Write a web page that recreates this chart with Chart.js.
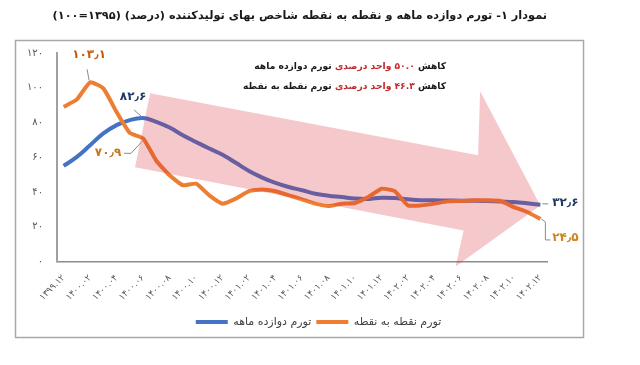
<!DOCTYPE html>
<html lang="fa">
<head>
<meta charset="utf-8">
<script src="https://cdn.jsdelivr.net/npm/chart.js@4.4.0/dist/chart.umd.min.js"></script>
<style>
html, body { margin: 0; padding: 0; background: #fff; }
#caja { width: 640px; height: 365px; }
</style>
</head>
<body>
<div id="caja"><canvas id="grafica" width="640" height="365"></canvas></div>
<script>
// months (every month 1399.12 .. 1402.12), labels shown every second one
const meses = [
  '۱۳۹۹.۱۲', '۱۴۰۰.۰۱', '۱۴۰۰.۰۲', '۱۴۰۰.۰۳', '۱۴۰۰.۰۴', '۱۴۰۰.۰۵', '۱۴۰۰.۰۶',
  '۱۴۰۰.۰۷', '۱۴۰۰.۰۸', '۱۴۰۰.۰۹', '۱۴۰۰.۱۰', '۱۴۰۰.۱۱', '۱۴۰۰.۱۲',
  '۱۴۰۱.۰۱', '۱۴۰۱.۰۲', '۱۴۰۱.۰۳', '۱۴۰۱.۰۴', '۱۴۰۱.۰۵', '۱۴۰۱.۰۶',
  '۱۴۰۱.۰۷', '۱۴۰۱.۰۸', '۱۴۰۱.۰۹', '۱۴۰۱.۱۰', '۱۴۰۱.۱۱', '۱۴۰۱.۱۲',
  '۱۴۰۲.۰۱', '۱۴۰۲.۰۲', '۱۴۰۲.۰۳', '۱۴۰۲.۰۴', '۱۴۰۲.۰۵', '۱۴۰۲.۰۶',
  '۱۴۰۲.۰۷', '۱۴۰۲.۰۸', '۱۴۰۲.۰۹', '۱۴۰۲.۱۰', '۱۴۰۲.۱۱', '۱۴۰۲.۱۲'
];

// تورم دوازده ماهه
const tavarromSalaneh = [
  55.0, 60.2, 66.9, 73.7, 78.5, 81.4, 82.6, 80.4, 77.1, 72.7, 68.8, 65.0, 61.5,
  56.8, 52.1, 48.3, 45.2, 42.9, 41.0, 39.0, 37.9, 37.1, 36.2, 36.0, 36.7,
  36.5, 35.8, 35.3, 35.2, 35.1, 35.0, 35.0, 34.8, 34.5, 34.2, 33.5, 32.6
];

// تورم نقطه به نقطه
const tavarromNoghte = [
  89.0, 93.3, 103.1, 99.6, 86.0, 74.0, 70.9, 58.0, 49.6, 43.9, 44.8, 38.1, 33.3,
  36.2, 40.5, 41.5, 40.4, 38.1, 35.8, 33.3, 31.9, 33.3, 33.7, 37.1, 41.9,
  40.5, 32.3, 32.3, 33.3, 34.6, 34.8, 35.2, 35.2, 34.8, 31.3, 28.5, 24.5
];

const yTicks = [0, 20, 40, 60, 80, 100, 120];

const nombres = ['تورم دوازده ماهه', 'تورم نقطه به نقطه'];
const titulo = 'نمودار ۱- تورم دوازده ماهه و نقطه به نقطه شاخص بهای تولیدکننده (درصد) (۱۳۹۵=۱۰۰)';

const faDigits = '۰۱۲۳۴۵۶۷۸۹';
function toFa(v) {
  return String(v).replace(/\d/g, d => faDigits[d]);
}
function decFa(v) {
  return toFa(v.toFixed(1)).replace('.', '٫');
}

const FUENTE = '"DejaVu Sans", sans-serif';

// fondo, marco y titulo
const marcoPlugin = {
  id: 'marco',
  afterLayout(chart) {
    // move legend under the middle of the plot like the picture
    chart.legend.left += 45;
    chart.legend.right += 45;
  },
  beforeDraw(chart) {
    const ctx = chart.ctx;
    ctx.save();
    ctx.fillStyle = '#fff';
    ctx.fillRect(0, 0, chart.width, chart.height);
    ctx.strokeStyle = '#a8a8a8';
    ctx.lineWidth = 1.5;
    ctx.strokeRect(15.5, 40.5, 568, 297);

    // title fitted to its width in the picture
    let size = 15;
    ctx.direction = 'rtl';
    ctx.font = 'bold ' + size + 'px ' + FUENTE;
    const w = ctx.measureText(titulo).width;
    size = size * 495 / w;
    ctx.font = 'bold ' + size.toFixed(2) + 'px ' + FUENTE;
    ctx.fillStyle = '#1a1a1a';
    ctx.textAlign = 'right';
    ctx.textBaseline = 'middle';
    ctx.fillText(titulo, 547, 16);
    ctx.restore();
  }
};

// flecha rosa encima de las lineas (en unidades de datos)
const flechaPlugin = {
  id: 'flecha',
  afterDatasetsDraw(chart) {
    const { ctx, scales: { x, y } } = chart;
    const forma = [
      [6.53, 96.9], [31.3, 61.2], [31.45, 98.0], [36.0, 32.3],
      [29.6, -2.9], [30.2, 17.9], [5.39, 54.2]
    ];
    ctx.save();
    ctx.beginPath();
    forma.forEach((p, i) => {
      const px = x.getPixelForValue(p[0]);
      const py = y.getPixelForValue(p[1]);
      if (i === 0) ctx.moveTo(px, py); else ctx.lineTo(px, py);
    });
    ctx.closePath();
    ctx.fillStyle = 'rgba(215, 40, 52, 0.25)';
    ctx.fill();
    ctx.restore();
  }
};

// etiquetas de puntos y cuadro de texto
const textosPlugin = {
  id: 'textos',
  afterDraw(chart) {
    const { ctx, scales: { x, y } } = chart;
    const pt = (i, v) => [x.getPixelForValue(i), y.getPixelForValue(v)];
    ctx.save();
    ctx.lineWidth = 1;
    ctx.strokeStyle = '#8a8a8a';
    ctx.textBaseline = 'middle';
    ctx.textAlign = 'center';
    ctx.font = 'bold 12px ' + FUENTE;

    // 103.1 peak
    let [px, py] = pt(2, tavarromNoghte[2]);
    ctx.beginPath(); ctx.moveTo(px - 3, py - 13); ctx.lineTo(px - 1, py - 2); ctx.stroke();
    ctx.fillStyle = '#c55a11';
    ctx.fillText(decFa(tavarromNoghte[2]), px - 1, py - 27);

    // 82.6 blue peak
    [px, py] = pt(6, tavarromSalaneh[6]);
    ctx.beginPath(); ctx.moveTo(px - 9, py - 8); ctx.lineTo(px - 1, py - 1); ctx.stroke();
    ctx.fillStyle = '#1f3864';
    ctx.fillText(decFa(tavarromSalaneh[6]), px - 10, py - 21);

    // 70.9 orange
    [px, py] = pt(6, tavarromNoghte[6]);
    ctx.beginPath(); ctx.moveTo(px - 1, py + 3); ctx.lineTo(px - 12, py + 15); ctx.lineTo(px - 19, py + 15); ctx.stroke();
    ctx.fillStyle = '#c47a1e';
    ctx.fillText(decFa(tavarromNoghte[6]), px - 35, py + 15);

    // 32.6 blue end
    const n = meses.length - 1;
    [px, py] = pt(n, tavarromSalaneh[n]);
    ctx.beginPath(); ctx.moveTo(px + 2, py - 1); ctx.lineTo(px + 8, py - 1); ctx.stroke();
    ctx.fillStyle = '#203864';
    ctx.fillText(decFa(tavarromSalaneh[n]), px + 25, py - 2);

    // 24.5 orange end
    [px, py] = pt(n, tavarromNoghte[n]);
    ctx.beginPath(); ctx.moveTo(px + 1, py); ctx.lineTo(px + 5, py + 3); ctx.lineTo(px + 5, py + 21); ctx.lineTo(px + 10, py + 21); ctx.stroke();
    ctx.fillStyle = '#c9861a';
    ctx.fillText(decFa(tavarromNoghte[n]), px + 25, py + 19);

    // cuadro de texto (derecha a izquierda, con tramos en rojo)
    const lineas = [
      [['کاهش ', '#1a1a1a'], ['۵۰.۰ واحد درصدی', '#c0282d'], [' تورم دوازده ماهه', '#1a1a1a']],
      [['کاهش ', '#1a1a1a'], ['۴۶.۳ واحد درصدی', '#c0282d'], [' تورم نقطه به نقطه', '#1a1a1a']]
    ];
    ctx.direction = 'rtl';
    ctx.textAlign = 'right';
    let fs = 11;
    ctx.font = 'bold ' + fs + 'px ' + FUENTE;
    const ancho = ctx.measureText(lineas[0].map(s => s[0]).join('')).width;
    fs = fs * 192 / ancho;
    ctx.font = 'bold ' + fs.toFixed(2) + 'px ' + FUENTE;
    lineas.forEach((linea, k) => {
      let xx = 446;
      const yy = 67 + k * 20;
      linea.forEach(([t, c]) => {
        ctx.fillStyle = c;
        ctx.fillText(t, xx, yy);
        xx -= ctx.measureText(t).width;
      });
    });
    ctx.restore();
  }
};

function setupChart() {
  const ctx = document.getElementById('grafica').getContext('2d');
  new Chart(ctx, {
    type: 'line',
    data: {
      labels: meses,
      datasets: [{
        label: nombres[0],
        data: tavarromSalaneh,
        borderColor: '#4472c4',
        backgroundColor: '#4472c4',
        borderWidth: 4,
        pointRadius: 0,
        tension: 0.4,
        order: 1
      }, {
        label: nombres[1],
        data: tavarromNoghte,
        borderColor: '#ed7d31',
        backgroundColor: '#ed7d31',
        borderWidth: 4,
        pointRadius: 0,
        tension: 0.15,
        order: 0
      }]
    },
    options: {
      responsive: false,
      animation: false,
      layout: { padding: { left: 0, right: 93, top: 53, bottom: 27.5 } },
      scales: {
        x: {
          offset: true,
          grid: { display: false },
          border: { display: true, color: '#8c8c8c', width: 1.5 },
          ticks: {
            autoSkip: false,
            minRotation: 45,
            maxRotation: 45,
            color: '#595959',
            font: { family: FUENTE, size: 9 },
            callback: (v, i) => (i % 2 === 0 ? meses[i] : '')
          },
          afterFit: s => { s.height = 50; }
        },
        y: {
          min: 0,
          max: 120,
          afterBuildTicks: s => { s.ticks = yTicks.map(v => ({ value: v })); },
          grid: { display: false },
          border: { display: true, color: '#a0a0a0', width: 2 },
          ticks: {
            color: '#595959',
            padding: 6,
            font: { family: FUENTE, size: 10 },
            callback: v => toFa(v)
          },
          afterFit: s => { s.width = 57; }
        }
      },
      plugins: {
        title: { display: false },
        tooltip: { enabled: false },
        legend: {
          position: 'bottom',
          labels: {
            boxWidth: 32,
            boxHeight: 4,
            padding: 5,
            color: '#404040',
            font: { family: FUENTE, size: 11 },
            sort: (a, b) => a.datasetIndex - b.datasetIndex,
            generateLabels: chart =>
              Chart.defaults.plugins.legend.labels.generateLabels(chart)
                .map(l => Object.assign(l, { lineWidth: 0, fillStyle: l.strokeStyle }))
          }
        }
      }
    },
    plugins: [marcoPlugin, flechaPlugin, textosPlugin]
  });
}

document.addEventListener('DOMContentLoaded', setupChart);
</script>
</body>
</html>
